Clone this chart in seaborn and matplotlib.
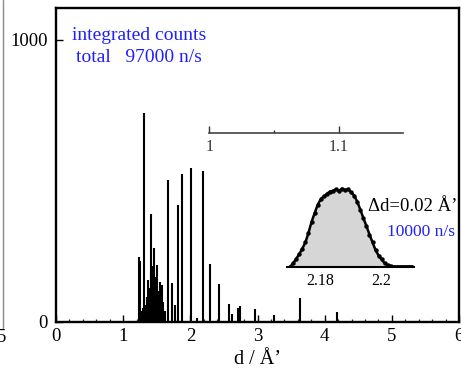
import matplotlib
matplotlib.use('Agg')
import matplotlib.pyplot as plt
from matplotlib.lines import Line2D
from matplotlib.ticker import FixedLocator, MultipleLocator
import seaborn as sns
import pandas as pd

# ---- data ----
peak_d = [1.24, 1.25, 1.27, 1.29, 1.31, 1.33, 1.36, 1.37, 1.39, 1.41, 1.42, 1.43,
          1.44, 1.46, 1.47, 1.48, 1.50, 1.51, 1.53, 1.545, 1.56, 1.585, 1.60, 1.62,
          1.67, 1.72, 1.77, 1.82, 1.88, 2.015, 2.10, 2.19, 2.30, 2.42, 2.57, 2.62,
          2.71, 2.74, 2.96, 3.24, 3.63, 4.18]
peak_counts = [230, 215, 40, 50, 742, 60, 90, 150, 120, 383, 180, 200,
               190, 262, 160, 120, 90, 202, 110, 143, 80, 131, 70, 40,
               503, 138, 60, 415, 525, 545, 15, 535, 207, 135, 65, 30,
               50, 55, 46, 25, 85, 37]

profile_d = [2.170, 2.171, 2.172, 2.173, 2.174, 2.175, 2.176, 2.177, 2.178, 2.179,
             2.180, 2.181, 2.182, 2.183, 2.184, 2.185, 2.186, 2.187, 2.188, 2.189,
             2.190, 2.191, 2.192, 2.193, 2.194, 2.195, 2.196, 2.197, 2.198, 2.199,
             2.200, 2.201, 2.202, 2.203, 2.204, 2.205, 2.206, 2.207, 2.208, 2.209,
             2.210]
profile_rel = [0.00, 0.04, 0.10, 0.16, 0.23, 0.31, 0.43, 0.57, 0.68, 0.79,
               0.86, 0.90, 0.93, 0.96, 0.97, 0.99, 0.97, 1.00, 0.98, 0.99,
               0.95, 0.91, 0.83, 0.73, 0.62, 0.52, 0.41, 0.31, 0.21, 0.14,
               0.09, 0.04, 0.015, 0.005, 0.0, 0.0, 0.0, 0.0, 0.0, 0.0,
               0.0]

main_xticks = [0, 1, 2, 3, 4, 5, 6]
main_yticks = [0, 1000]
inset_ticks = [2.18, 2.2]
inset_tick_labels = ['2.18', '2.2']
scale_ticks = [1, 1.1]
scale_tick_labels = ['1', '1.1']

# ---- style ----
sns.set_theme(style='ticks')
plt.rcParams['font.family'] = ['Liberation Serif', 'DejaVu Serif']

W, H = 461, 376
fig = plt.figure(figsize=(W / 100, H / 100), dpi=100)
fig.patch.set_facecolor('white')


def fx(px):
    return px / W


def fy(py):
    return 1 - py / H


blue = '#1f1fff'

# ---- main axes ----
ax = fig.add_axes([fx(56), fy(322), fx(459) - fx(56), fy(8) - fy(322)])
ax.vlines(peak_d, 0, peak_counts, color='black', lw=1.5)
ax.set_xlim(0, 6)
ax.set_ylim(0, 1113)
ax.set_xticks(main_xticks)
ax.set_xticklabels([str(t) for t in main_xticks])
ax.set_yticks(main_yticks)
ax.set_yticklabels([str(t) for t in main_yticks])
ax.xaxis.set_minor_locator(MultipleLocator(0.2))
ax.tick_params(axis='both', which='major', direction='in', length=5, width=1.0,
               labelsize=13.5, colors='black', top=False, right=False)
ax.tick_params(axis='x', which='major', pad=4)
ax.tick_params(axis='y', which='major', pad=6)
ax.tick_params(axis='x', which='minor', direction='in', length=2.2, width=0.9,
               top=False)
for s in ax.spines.values():
    s.set_linewidth(1.7)
    s.set_color('black')
    s.set_visible(True)
ax.set_xlabel('d / Å’', fontsize=14.5, labelpad=4, color='black')
ax.set_ylabel('')

# ---- inset scale bar (1 ... 1.1) ----
ax3 = fig.add_axes([fx(209.3), fy(133), fx(403.3) - fx(209.3), 0.05])
ax3.patch.set_alpha(0)
ax3.set_xlim(1.0, 1.1496)
ax3.set_ylim(0, 1)
for k in ['left', 'right', 'top']:
    ax3.spines[k].set_visible(False)
ax3.spines['bottom'].set_color('#444444')
ax3.spines['bottom'].set_linewidth(1.2)
ax3.set_yticks([])
ax3.set_xticks(scale_ticks)
ax3.set_xticklabels(scale_tick_labels)
ax3.xaxis.set_minor_locator(FixedLocator([1.05]))
ax3.tick_params(axis='x', which='major', direction='in', length=5, width=1.0,
                labelsize=11.5, pad=4, colors='#333333')
ax3.tick_params(axis='x', which='minor', direction='in', length=2, width=1.0,
                colors='#333333')

# ---- inset peak profile ----
ax2 = fig.add_axes([fx(287.1), fy(266.5), fx(413.7) - fx(287.1),
                    fy(184.6) - fy(266.5)])
ax2.patch.set_alpha(0)
ax2.fill_between(profile_d, profile_rel, 0, color='#d6d6d6', lw=0)
prof = pd.DataFrame({'d': profile_d, 'rel': profile_rel})
sns.lineplot(data=prof, x='d', y='rel', ax=ax2, color='black', lw=1.8,
             marker='o', markersize=3.2, markeredgewidth=0)
ax2.set_xlim(2.169, 2.2105)
ax2.set_ylim(0, 1.05)
for k in ['left', 'right', 'top']:
    ax2.spines[k].set_visible(False)
ax2.spines['bottom'].set_color('black')
ax2.spines['bottom'].set_linewidth(1.5)
ax2.set_yticks([])
ax2.set_xticks(inset_ticks)
ax2.set_xticklabels(inset_tick_labels)
ax2.xaxis.set_minor_locator(FixedLocator([2.19]))
ax2.tick_params(axis='x', which='major', direction='in', length=4, width=1.0,
                labelsize=11.5, pad=5, colors='black')
ax2.tick_params(axis='x', which='minor', direction='in', length=2, width=1.0)
ax2.set_xlabel('')
ax2.set_ylabel('')

# ---- annotations ----
fig.text(fx(139), fy(36), 'integrated counts', color=blue, fontsize=14,
         ha='center', va='center')
fig.text(fx(139), fy(57), 'total   97000 n/s', color=blue, fontsize=14,
         ha='center', va='center')
fig.text(fx(413), fy(207), 'Δd=0.02 Å’', color='black', fontsize=13.5,
         ha='center', va='center')
fig.text(fx(421), fy(232), '10000 n/s', color=blue, fontsize=12.5,
         ha='center', va='center')

# ---- remnant of neighbouring panel ----
fig.add_artist(Line2D([fx(3), fx(3)], [fy(0), fy(329)], color='#8a8a8a', lw=1.0))
fig.text(-3 / W, fy(337), '5', ha='left', va='center', fontsize=13.5, color='black')

fig.savefig('out.png', dpi=100)
